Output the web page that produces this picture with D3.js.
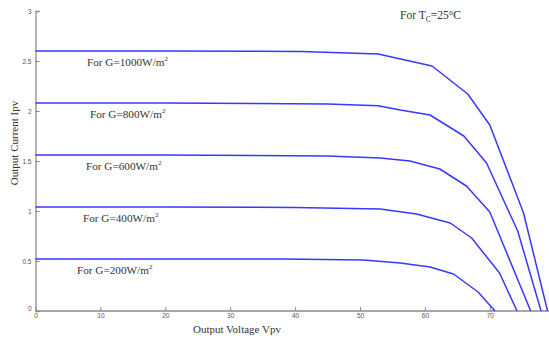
<!DOCTYPE html>
<html><head><meta charset="utf-8">
<script src="https://cdn.jsdelivr.net/npm/d3@7"></script>
<style>
html,body{margin:0;padding:0;background:#fff;overflow:hidden}
svg{display:block}
</style></head>
<body><svg id="c" width="549" height="338"></svg>
<script>
// Irradiance series (W/m^2)
const irradiance = [1000, 800, 600, 400, 200];
// Voltage (V) / current (A) points, one pair per series
const v1000 = [0, 20, 41, 52.8, 61.1, 66.6, 70.0, 75.2, 78.9];
const i1000 = [2.60, 2.60, 2.595, 2.57, 2.45, 2.17, 1.86, 0.98, 0];
const v800 = [0, 20, 45, 52.8, 56.2, 60.8, 66.0, 69.5, 74.3, 77.9];
const i800 = [2.08, 2.08, 2.07, 2.053, 2.01, 1.96, 1.75, 1.48, 0.80, 0];
const v600 = [0, 20, 45, 53.1, 57.7, 62.3, 66.4, 70.0, 76.3];
const i600 = [1.56, 1.56, 1.55, 1.53, 1.50, 1.42, 1.25, 0.99, 0];
const v400 = [0, 20, 40, 53.1, 58.7, 63.9, 67.2, 71.5, 74.2];
const i400 = [1.04, 1.04, 1.035, 1.02, 0.97, 0.88, 0.73, 0.38, 0];
const v200 = [0, 20, 38, 44.5, 50.5, 56.2, 60.8, 64.4, 68.2, 70.8];
const i200 = [0.52, 0.52, 0.52, 0.515, 0.51, 0.48, 0.44, 0.37, 0.19, 0];
const xTicks = [0, 10, 20, 30, 40, 50, 60, 70];
const yTicks = [0, 0.5, 1, 1.5, 2, 2.5, 3];
const seriesLabels = ["For G=1000W/m", "For G=800W/m", "For G=600W/m", "For G=400W/m", "For G=200W/m"];

const series = [[v1000,i1000],[v800,i800],[v600,i600],[v400,i400],[v200,i200]];

const svg = d3.select("#c");
const x = d3.scaleLinear().domain([0, 80]).range([35.5, 554.7]);
const y = d3.scaleLinear().domain([0, 3]).range([311, 11]);

// axes
const axisColor = "#8a8a8a";
const xAxis = d3.axisBottom(x).tickValues(xTicks).tickSize(-4).tickPadding(2.5).tickFormat(d3.format("d"));
const gx = svg.append("g").attr("transform", `translate(0,${y(0)})`).call(xAxis);
gx.select(".domain").attr("d", `M${x(0)},0H549`);
const yAxis = d3.axisLeft(y).tickValues(yTicks).tickSize(-4).tickPadding(4).tickFormat(d => d);
const gy = svg.append("g").attr("transform", `translate(${x(0)},0)`).call(yAxis);
[gx, gy].forEach(g => {
  g.select(".domain").attr("stroke", axisColor).attr("stroke-width", 1.3);
  g.selectAll(".tick line").attr("stroke", axisColor);
  g.selectAll(".tick text").attr("fill", "#555").attr("font-family", "Liberation Sans, Arial, sans-serif").attr("font-size", 6.5);
});
gy.selectAll(".tick").filter(d => d === 0).select("text").attr("dy", "-0.1em");

// curves
const line = d3.line().x(d => x(d[0])).y(d => y(d[1]));
series.forEach(([vs, is]) => {
  svg.append("path")
    .attr("d", line(vs.map((v, k) => [v, is[k]])))
    .attr("fill", "none").attr("stroke", "#3838ff").attr("stroke-width", 1.5)
    .attr("stroke-linejoin", "round");
});

// series labels
const labelX = [87, 90, 86, 83, 77];
const serif = "Liberation Serif, Times New Roman, serif";
series.forEach(([vs, is], k) => {
  const t = svg.append("text")
    .attr("x", labelX[k]).attr("y", y(is[0]) + 14.5)
    .attr("font-family", serif).attr("font-size", 11.2).attr("fill", "#333");
  t.append("tspan").text(seriesLabels[k]);
  t.append("tspan").text("2").attr("font-size", 7).attr("dy", -5);
});

// temperature note
const tt = svg.append("text").attr("x", 400).attr("y", 19)
  .attr("font-family", serif).attr("font-size", 11.5).attr("fill", "#333");
tt.append("tspan").text("For T");
tt.append("tspan").text("C").attr("font-size", 7.5).attr("dy", 3);
tt.append("tspan").text("=25°C").attr("dy", -3);

// axis titles
svg.append("text").attr("x", 237).attr("y", 333).attr("text-anchor", "middle")
  .attr("font-family", serif).attr("font-size", 11).attr("fill", "#333")
  .text("Output Voltage Vpv");
svg.append("text").attr("transform", "translate(18,143) rotate(-90)").attr("text-anchor", "middle")
  .attr("font-family", serif).attr("font-size", 11).attr("fill", "#333")
  .text("Output Current Ipv");
</script></body></html>
